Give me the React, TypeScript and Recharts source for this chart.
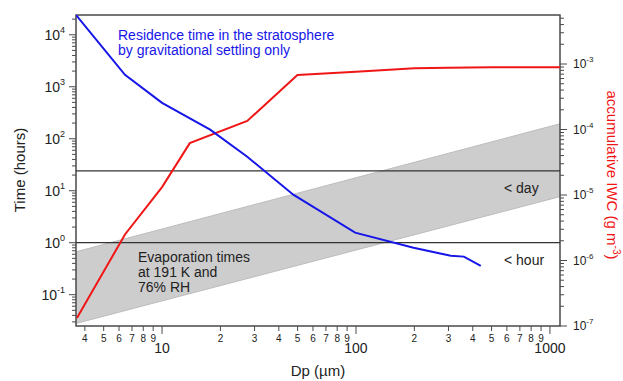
import {
  ComposedChart, Line, Area, XAxis, YAxis, ReferenceLine, ReferenceArea,
} from 'recharts';

const FONT = '"Liberation Sans", Arial, Helvetica, sans-serif';
const AXIS = '#4a4a4a';
const INK = '#222';
const BLUE = '#1616e8';
const RED = '#f01616';

// residence time (hours) by gravitational settling vs particle diameter (µm)
const residenceDp = [3.6, 6.44, 10, 17.7, 27.5, 47.5, 99, 198, 308, 360, 440];
const residenceHours = [24000, 1700, 490, 150, 45, 8.4, 1.56, 0.8, 0.56, 0.54, 0.36];

// accumulative ice water content (g m-3)
const iwcDp = [3.64, 6.44, 10, 13.9, 27.5, 49.9, 100, 200, 300, 500, 1127];
const iwcValues = [1.32e-7, 2.5e-6, 1.32e-5, 6.2e-5, 1.35e-4, 6.8e-4, 7.6e-4, 8.6e-4, 8.8e-4, 8.9e-4, 8.9e-4];

// evaporation time band at 191 K, 76% RH
const bandDp = [3.6, 1127];
const bandLow = [0.028, 7.7];
const bandHigh = [0.67, 194];

const HOUR = 1;
const DAY = 24;

const dpTicks = [
  4, 5, 6, 7, 8, 9,
  10, 20, 30, 40, 50, 60, 70, 80, 90,
  100, 200, 300, 400, 500, 600, 700, 800, 900,
  1000,
];
const timeTicks = [
  0.03, 0.04, 0.05, 0.06, 0.07, 0.08, 0.09,
  0.1, 0.2, 0.3, 0.4, 0.5, 0.6, 0.7, 0.8, 0.9,
  1, 2, 3, 4, 5, 6, 7, 8, 9,
  10, 20, 30, 40, 50, 60, 70, 80, 90,
  100, 200, 300, 400, 500, 600, 700, 800, 900,
  1000, 2000, 3000, 4000, 5000, 6000, 7000, 8000, 9000,
  10000, 20000,
];
const iwcTicks = [
  1e-7, 2e-7, 3e-7, 4e-7, 5e-7, 6e-7, 7e-7, 8e-7, 9e-7,
  1e-6, 2e-6, 3e-6, 4e-6, 5e-6, 6e-6, 7e-6, 8e-6, 9e-6,
  1e-5, 2e-5, 3e-5, 4e-5, 5e-5, 6e-5, 7e-5, 8e-5, 9e-5,
  1e-4, 2e-4, 3e-4, 4e-4, 5e-4, 6e-4, 7e-4, 8e-4, 9e-4,
  1e-3, 2e-3, 3e-3, 4e-3, 5e-3,
];

const residenceData = residenceDp.map((dp, i) => ({ dp, hours: residenceHours[i] }));
const iwcData = iwcDp.map((dp, i) => ({ dp, iwc: iwcValues[i] }));
const bandData = bandDp.map((dp, i) => ({ dp, evap: [bandLow[i], bandHigh[i]] }));

const exponent = (v: number) => Math.round(Math.log10(v));
const isDecade = (v: number) => Math.abs(Math.log10(v) - exponent(v)) < 1e-6;

function LeftTick({ x, y, payload }: any) {
  const v = payload.value;
  const major = isDecade(v);
  return (
    <g>
      <line x1={x - (major ? 7 : 4)} x2={x} y1={y} y2={y} stroke={AXIS} />
      {major && (
        <text x={x - 11} y={y + 5} textAnchor="end" fontSize={14} fill={INK} fontFamily={FONT}>
          10<tspan dy={-7} fontSize={9}>{exponent(v)}</tspan>
        </text>
      )}
    </g>
  );
}

function RightTick({ x, y, payload }: any) {
  const v = payload.value;
  const major = isDecade(v);
  return (
    <g>
      <line x1={x} x2={x + (major ? 7 : 4)} y1={y} y2={y} stroke={AXIS} />
      {major && (
        <text x={x + 13} y={y + 4} fontSize={12} fill={INK} fontFamily={FONT}>
          10<tspan dy={-6} fontSize={8}>{exponent(v)}</tspan>
        </text>
      )}
    </g>
  );
}

function BottomTick({ x, y, payload }: any) {
  const v = payload.value;
  const major = isDecade(v);
  const digit = Math.round(v / Math.pow(10, Math.floor(Math.log10(v) + 1e-9)));
  return (
    <g>
      <line x1={x} x2={x} y1={y} y2={y + (major ? 8 : 5)} stroke={AXIS} />
      {major ? (
        <text x={x} y={y + 27} textAnchor="middle" fontSize={14} fill={INK} fontFamily={FONT}>{v}</text>
      ) : (
        <text x={x} y={y + 16} textAnchor="middle" fontSize={10} fill={INK} fontFamily={FONT}>{digit}</text>
      )}
    </g>
  );
}

export default function App() {
  return (
    <div style={{ position: 'absolute', left: 0, top: 0, width: 623, height: 381, background: '#fff' }}>
      <ComposedChart width={623} height={381} margin={{ top: 15, right: 13, bottom: 15, left: 16 }}>
        <XAxis
          dataKey="dp" type="number" scale="log" domain={[3.6, 1127]} allowDataOverflow
          ticks={dpTicks} interval={0} tick={<BottomTick />} tickLine={false}
          tickSize={0} tickMargin={0} axisLine={false} height={40}
        />
        <YAxis
          yAxisId="time" type="number" scale="log" domain={[0.025, 24000]} allowDataOverflow
          ticks={timeTicks} interval={0} tick={<LeftTick />} tickLine={false}
          tickSize={0} tickMargin={0} axisLine={false} width={60}
        />
        <YAxis
          yAxisId="iwc" orientation="right" type="number" scale="log" domain={[1e-7, 5.6e-3]} allowDataOverflow
          ticks={iwcTicks} interval={0} tick={<RightTick />} tickLine={false}
          tickSize={0} tickMargin={0} axisLine={false} width={50}
        />
        <Area
          yAxisId="time" data={bandData} dataKey="evap" type="linear"
          fill="#cdcdcd" fillOpacity={1} stroke="#bcbcbc" strokeWidth={1}
          isAnimationActive={false}
        />
        <ReferenceLine yAxisId="time" y={DAY} stroke="#333" strokeWidth={1.2} />
        <ReferenceLine yAxisId="time" y={HOUR} stroke="#333" strokeWidth={1.2} />
        <ReferenceArea
          yAxisId="time" x1={3.6} x2={1127} y1={0.025} y2={24000}
          fill="none" fillOpacity={0} stroke={AXIS} strokeWidth={1.5} ifOverflow="visible"
        />
        <Line
          yAxisId="iwc" data={iwcData} dataKey="iwc" type="linear"
          stroke={RED} strokeWidth={2} dot={false} isAnimationActive={false}
        />
        <Line
          yAxisId="time" data={residenceData} dataKey="hours" type="linear"
          stroke={BLUE} strokeWidth={2} dot={false} isAnimationActive={false}
        />
      </ComposedChart>

      <svg width={623} height={381} style={{ position: 'absolute', left: 0, top: 0, pointerEvents: 'none' }}
        fontFamily={FONT}>
        <text x={118} y={40} fontSize={14} fill={BLUE}>Residence time in the stratosphere</text>
        <text x={118} y={55} fontSize={14} fill={BLUE}>by gravitational settling only</text>

        <text x={138} y={262} fontSize={14} fill={INK}>Evaporation times</text>
        <text x={138} y={277} fontSize={14} fill={INK}>at 191 K and</text>
        <text x={138} y={292} fontSize={14} fill={INK}>76% RH</text>

        <text x={504} y={193} fontSize={14} fill={INK}>&lt; day</text>
        <text x={504} y={265} fontSize={14} fill={INK}>&lt; hour</text>

        <text x={318} y={376} fontSize={15} fill={INK} textAnchor="middle">Dp (µm)</text>
        <text x={25} y={170} fontSize={15} fill={INK} textAnchor="middle" transform="rotate(-90 25 170)">
          Time (hours)
        </text>
        <text x={607} y={175} fontSize={15} fill={RED} textAnchor="middle" transform="rotate(90 607 175)">
          accumulative IWC (g m<tspan dy={-6} fontSize={10}>-3</tspan><tspan dy={6}>)</tspan>
        </text>
      </svg>
    </div>
  );
}
